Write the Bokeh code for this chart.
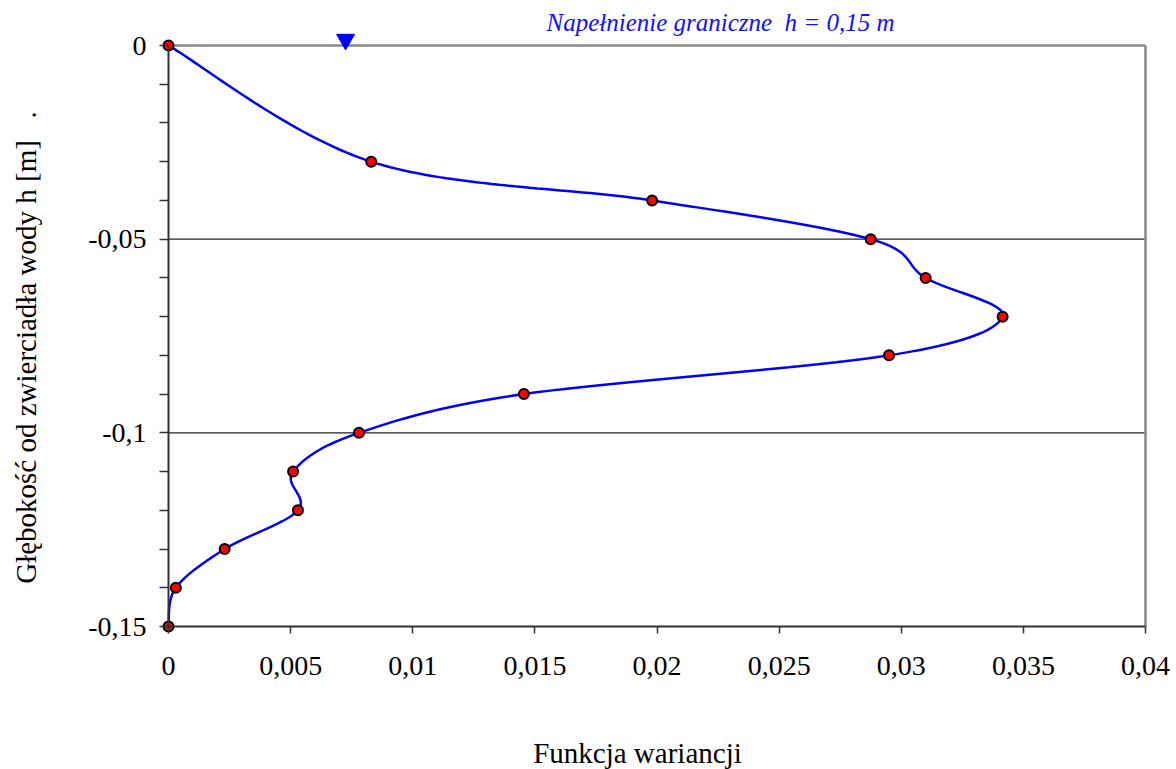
import numpy as np
from bokeh.plotting import figure
from bokeh.models import Range1d, FixedTicker, CustomJSTickFormatter, Label, LinearAxis
from bokeh.embed import file_html
from bokeh.resources import INLINE

# ---- data ----
depth = [0.0, -0.03, -0.04, -0.05, -0.06, -0.07, -0.08, -0.09, -0.10, -0.11, -0.12, -0.13, -0.14, -0.15]
variance = [0.0, 0.0083, 0.0198, 0.02875, 0.0310, 0.03415, 0.0295, 0.01455, 0.0078, 0.0051, 0.0053, 0.0023, 0.0003, 0.0]
x_ticks = [0, 0.005, 0.01, 0.015, 0.02, 0.025, 0.03, 0.035, 0.04]
x_tick_labels = ["0", "0,005", "0,01", "0,015", "0,02", "0,025", "0,03", "0,035", "0,04"]
y_ticks = [-0.15, -0.1, -0.05, 0]
y_tick_labels = ["-0,15", "-0,1", "-0,05", "0"]
y_minor = [-0.14, -0.13, -0.12, -0.11, -0.09, -0.08, -0.07, -0.06, -0.04, -0.03, -0.02, -0.01]
grid_levels = [-0.1, -0.05]
fill_level_x = 0.00725           # marker of water surface
NB = "\u00a0"
title_text = "Napełnienie graniczne" + NB + " h = 0,15 m"
x_title = "Funkcja wariancji"
y_title = "Głębokość od zwierciadła wody h [m] " + NB * 2 + "."

X_MIN, X_MAX = 0.0, 0.04
Y_MIN, Y_TOP = -0.15, 0.0

# geometry (pixels): the plotting frame covers the whole canvas, the axes box sits inside it
W, H = 1176, 769
AX_LEFT, AX_RIGHT, AX_TOP, AX_BOTTOM = 168, 1145, 45, 626
sx = (AX_RIGHT - AX_LEFT) / (X_MAX - X_MIN)
sy = (AX_BOTTOM - AX_TOP) / (Y_TOP - Y_MIN)
x_start = X_MIN - AX_LEFT / sx
x_end = X_MAX + (W - AX_RIGHT) / sx
y_start = Y_MIN - (H - AX_BOTTOM) / sy
y_end = Y_TOP + AX_TOP / sy

# ---- smooth curve (Catmull-Rom in screen-scaled space, like Excel smoothing) ----
P = np.column_stack([np.array(variance) * sx, np.array(depth) * sy])
Pext = np.vstack([P[0], P, P[-1]])
cx, cy = [], []
for i in range(1, len(Pext) - 2):
    p0, p1, p2, p3 = Pext[i - 1], Pext[i], Pext[i + 1], Pext[i + 2]
    c1 = p1 + (p2 - p0) / 6.0
    c2 = p2 - (p3 - p1) / 6.0
    t = np.linspace(0, 1, 40)[:, None]
    seg = ((1 - t) ** 3) * p1 + 3 * ((1 - t) ** 2) * t * c1 + 3 * (1 - t) * t ** 2 * c2 + t ** 3 * p2
    cx.extend(seg[:, 0] / sx)
    cy.extend(seg[:, 1] / sy)

p = figure(width=W, height=H, output_backend="svg", toolbar_location=None,
           x_range=Range1d(x_start, x_end), y_range=Range1d(y_start, y_end),
           x_axis_location=None, y_axis_location=None,
           min_border_left=0, min_border_right=0, min_border_top=0, min_border_bottom=0)
p.outline_line_color = None
p.background_fill_color = "white"
p.border_fill_color = "white"
p.xgrid.visible = False
p.ygrid.visible = False

SERIF = "'Liberation Serif', 'DejaVu Serif', 'Noto Serif', serif"
blank = CustomJSTickFormatter(code="return '';")
AXC = "#333333"

# axis lines + ticks drawn at the data origin (x = 0, y = -0.15)
ax_x = LinearAxis(fixed_location=Y_MIN, bounds=(X_MIN, X_MAX), ticker=FixedTicker(ticks=x_ticks),
                  formatter=blank, axis_line_color=AXC, axis_line_width=2,
                  major_tick_line_color=AXC, major_tick_line_width=1.5, major_tick_in=7, major_tick_out=0,
                  minor_tick_line_color=None, minor_tick_in=0, minor_tick_out=0,
                  major_label_text_font_size="0px", major_label_standoff=0, axis_label_standoff=0)
p.add_layout(ax_x, "above")
ax_y = LinearAxis(fixed_location=X_MIN, bounds=(Y_MIN, Y_TOP),
                  ticker=FixedTicker(ticks=y_ticks, minor_ticks=y_minor),
                  formatter=blank, axis_line_color=AXC, axis_line_width=2,
                  major_tick_line_color=AXC, major_tick_line_width=1.5, major_tick_in=9, major_tick_out=0,
                  minor_tick_line_color=AXC, minor_tick_line_width=1.5, minor_tick_in=9, minor_tick_out=0,
                  major_label_text_font_size="0px", major_label_standoff=0, axis_label_standoff=0)
p.add_layout(ax_y, "right")

# tick labels and axis titles (serif text)
for xv, txt in zip(x_ticks, x_tick_labels):
    p.add_layout(Label(x=xv, y=Y_MIN, y_offset=-30, text=txt, text_font=SERIF, text_font_size="28px",
                       text_color="black", text_align="center", text_baseline="top"))
for yv, txt in zip(y_ticks, y_tick_labels):
    p.add_layout(Label(x=X_MIN, y=yv, x_offset=-22, text=txt, text_font=SERIF, text_font_size="28px",
                       text_color="black", text_align="right", text_baseline="middle"))
p.add_layout(Label(x=X_MIN + 0.48 * (X_MAX - X_MIN), y=Y_MIN, y_offset=-110, text=x_title,
                   text_font=SERIF, text_font_size="29px", text_color="black",
                   text_align="center", text_baseline="top"))
p.add_layout(Label(x=X_MIN, x_offset=-143, y=Y_TOP - (347 - AX_TOP) / sy, text=y_title, angle=np.pi / 2,
                   text_font=SERIF, text_font_size="29px", text_color="black",
                   text_align="center", text_baseline="middle"))

# horizontal grid lines and frame top/right borders
p.segment(x0=[X_MIN] * len(grid_levels), y0=grid_levels, x1=[X_MAX] * len(grid_levels), y1=grid_levels,
          line_color="#222222", line_width=1.2)
p.segment(x0=[X_MIN, X_MAX], y0=[Y_TOP, Y_MIN], x1=[X_MAX, X_MAX], y1=[Y_TOP, Y_TOP],
          line_color="#888888", line_width=2.5)

# curve and points
p.line(cx, cy, line_color="#0000ff", line_width=2.5)
p.scatter(variance, depth, marker="circle", size=10, fill_color="#ff0000", line_color="black", line_width=2)

# water-surface marker
p.scatter([fill_level_x], [Y_TOP + 6 / sy], marker="inverted_triangle", size=18,
          fill_color="#0000ff", line_color="#0000ff")

p.add_layout(Label(x=0.0226, y=Y_TOP + 23 / sy, text=title_text, text_font=SERIF,
                   text_font_style="italic", text_font_size="25px", text_color="#1010ff",
                   text_align="center", text_baseline="middle"))

open("out.html", "w").write(file_html(p, INLINE))
